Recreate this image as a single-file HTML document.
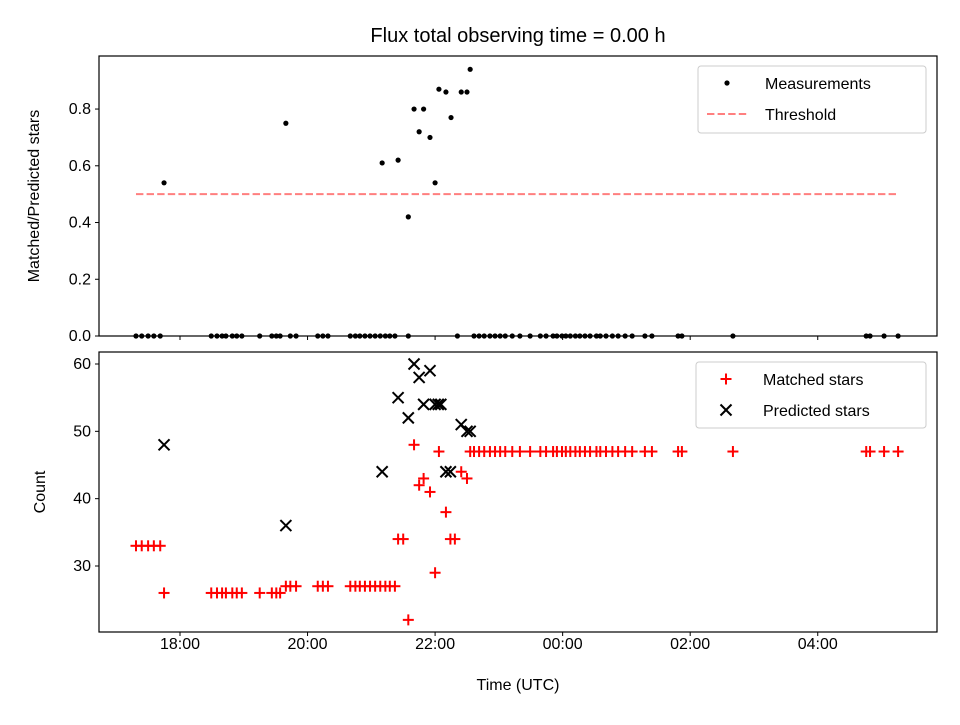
<!DOCTYPE html>
<html><head><meta charset="utf-8"><style>
body{margin:0;background:#fff;}
svg text{font-family:"Liberation Sans",sans-serif;fill:#000;}
</style></head><body>
<svg id="c" width="960" height="720" xmlns="http://www.w3.org/2000/svg"></svg>
<script>
// data (times in decimal hours, >24 means next day)
const ratioTimes=[17.75,19.66,21.17,21.42,21.58,21.67,21.75,21.82,21.92,22.00,22.06,22.17,22.25,22.41,22.50,22.55];
const ratioValues=[0.54,0.75,0.61,0.62,0.42,0.80,0.72,0.80,0.70,0.54,0.87,0.86,0.77,0.86,0.86,0.94];
const zeroTimes=[17.31,17.40,17.50,17.59,17.69,18.49,18.58,18.66,18.72,18.82,18.89,18.97,19.25,19.44,19.51,19.57,19.73,19.82,20.16,20.24,20.32,20.67,20.75,20.82,20.90,20.98,21.06,21.14,21.22,21.29,21.37,21.58,22.35,22.61,22.69,22.77,22.86,22.94,23.02,23.10,23.21,23.33,23.49,23.65,23.74,23.85,23.91,23.99,24.05,24.12,24.20,24.27,24.35,24.43,24.53,24.59,24.68,24.78,24.87,24.98,25.09,25.29,25.40,25.81,25.87,26.67,28.76,28.82,29.04,29.26];
const matchedTimes=[17.31,17.40,17.50,17.59,17.69,17.75,18.49,18.58,18.66,18.72,18.82,18.89,18.97,19.25,19.44,19.51,19.57,19.66,19.73,19.82,20.16,20.24,20.32,20.67,20.75,20.82,20.90,20.98,21.06,21.14,21.22,21.29,21.37,21.42,21.50,21.58,21.67,21.75,21.82,21.92,22.00,22.06,22.17,22.24,22.31,22.41,22.50,22.55,22.61,22.69,22.77,22.86,22.94,23.02,23.10,23.21,23.33,23.49,23.65,23.74,23.85,23.91,23.99,24.05,24.12,24.20,24.27,24.35,24.43,24.53,24.59,24.68,24.78,24.87,24.98,25.09,25.29,25.40,25.81,25.87,26.67,28.76,28.82,29.04,29.26];
const matchedValues=[33,33,33,33,33,26,26,26,26,26,26,26,26,26,26,26,26,27,27,27,27,27,27,27,27,27,27,27,27,27,27,27,27,34,34,22,48,42,43,41,29,47,38,34,34,44,43,47,47,47,47,47,47,47,47,47,47,47,47,47,47,47,47,47,47,47,47,47,47,47,47,47,47,47,47,47,47,47,47,47,47,47,47,47,47];
const predTimes=[17.75,19.66,21.17,21.42,21.58,21.67,21.75,21.82,21.92,22.00,22.05,22.09,22.17,22.24,22.41,22.50,22.55];
const predValues=[48,36,44,55,52,60,58,54,59,54,54,54,44,44,51,50,50];
const xTickVals=[18,20,22,24,26,28];
const xTickLabels=["18:00","20:00","22:00","00:00","02:00","04:00"];
const topTicks=[0,0.2,0.4,0.6,0.8];
const botTicks=[30,40,50,60];
const threshold=0.5, thrStart=17.31, thrEnd=29.26;

const NS="http://www.w3.org/2000/svg";
const svg=document.getElementById('c');
const L=99,R=937,T1=56,B1=336,T2=352,B2=632;
const xs=h=>L+(h-16.73)/(29.87-16.73)*(R-L);
const y1=v=>B1-(v-0)/(0.987-0)*(B1-T1);
const y2=v=>B2-(v-20.2)/(61.78-20.2)*(B2-T2);
function el(tag,attrs,parent){const e=document.createElementNS(NS,tag);for(const k in attrs)e.setAttribute(k,attrs[k]);(parent||svg).appendChild(e);return e;}
function txt(s,x,y,anchor,size,parent){const t=el('text',{x:x,y:y,'text-anchor':anchor,'font-size':size},parent);t.textContent=s;return t;}

const title=txt('Flux total observing time = 0.00 h',518,42,'middle',20);



// top panel
const gTop=el('g',{});


const thr=el('line',{x1:xs(thrStart),x2:xs(thrEnd),y1:y1(threshold),y2:y1(threshold),stroke:'#ff7f7f','stroke-width':2,'stroke-dasharray':'7.4,3.2'},gTop);


ratioTimes.forEach((t,i)=>{const c=el('circle',{cx:xs(t),cy:y1(ratioValues[i]),r:2.6,fill:'#000'},gTop);

});
zeroTimes.forEach(t=>{const c=el('circle',{cx:xs(t),cy:y1(0),r:2.6,fill:'#000'},gTop);

});
el('rect',{x:L,y:T1,width:R-L,height:B1-T1,fill:'none',stroke:'#000','stroke-width':1.2},gTop);
topTicks.forEach(v=>{el('line',{x1:L-4,x2:L,y1:y1(v),y2:y1(v),stroke:'#000'},gTop);txt(v.toFixed(1),L-8,y1(v)+5,'end',16,gTop);});
xTickVals.forEach(v=>el('line',{x1:xs(v),x2:xs(v),y1:B1,y2:B1+4,stroke:'#000'},gTop));
const yl1=txt('Matched/Predicted stars',0,0,'middle',16,gTop);
yl1.setAttribute('transform','translate(39,196) rotate(-90)');


// top legend
const lg1=el('g',{},gTop);


el('rect',{x:698,y:66,width:228,height:67,rx:3,fill:'#fff',stroke:'#ccc'},lg1);
el('circle',{cx:727,cy:83,r:2.6,fill:'#000'},lg1);
txt('Measurements',765,89,'start',16,lg1);
el('line',{x1:707,x2:747,y1:114,y2:114,stroke:'#ff7f7f','stroke-width':2,'stroke-dasharray':'7.4,3.2'},lg1);
txt('Threshold',765,120,'start',16,lg1);

// bottom panel
const gB=el('g',{});


function plus(x,y,p){const g=el('g',{stroke:'#f00','stroke-width':2},p);el('line',{x1:x-5.5,x2:x+5.5,y1:y,y2:y},g);el('line',{x1:x,x2:x,y1:y-5.5,y2:y+5.5},g);return g;}
function cross(x,y,p){const g=el('g',{stroke:'#000','stroke-width':2},p);el('line',{x1:x-5.5,x2:x+5.5,y1:y-5.5,y2:y+5.5},g);el('line',{x1:x-5.5,x2:x+5.5,y1:y+5.5,y2:y-5.5},g);return g;}
matchedTimes.forEach((t,i)=>{const m=plus(xs(t),y2(matchedValues[i]),gB);

});
predTimes.forEach((t,i)=>{const m=cross(xs(t),y2(predValues[i]),gB);

});
el('rect',{x:L,y:T2,width:R-L,height:B2-T2,fill:'none',stroke:'#000','stroke-width':1.2},gB);
botTicks.forEach(v=>{el('line',{x1:L-4,x2:L,y1:y2(v),y2:y2(v),stroke:'#000'},gB);txt(String(v),L-8,y2(v)+5,'end',16,gB);});
xTickVals.forEach((v,i)=>{el('line',{x1:xs(v),x2:xs(v),y1:B2,y2:B2+4,stroke:'#000'},gB);txt(xTickLabels[i],xs(v),649,'middle',16,gB);});
const yl2=txt('Count',0,0,'middle',16,gB);
yl2.setAttribute('transform','translate(45,492) rotate(-90)');


const xl=txt('Time (UTC)',518,690,'middle',16,gB);


const lg2=el('g',{},gB);


el('rect',{x:696,y:362,width:230,height:66,rx:3,fill:'#fff',stroke:'#ccc'},lg2);
plus(726,379,lg2);
txt('Matched stars',763,385,'start',16,lg2);
cross(726,410,lg2);
txt('Predicted stars',763,416,'start',16,lg2);
</script>
</body></html>
